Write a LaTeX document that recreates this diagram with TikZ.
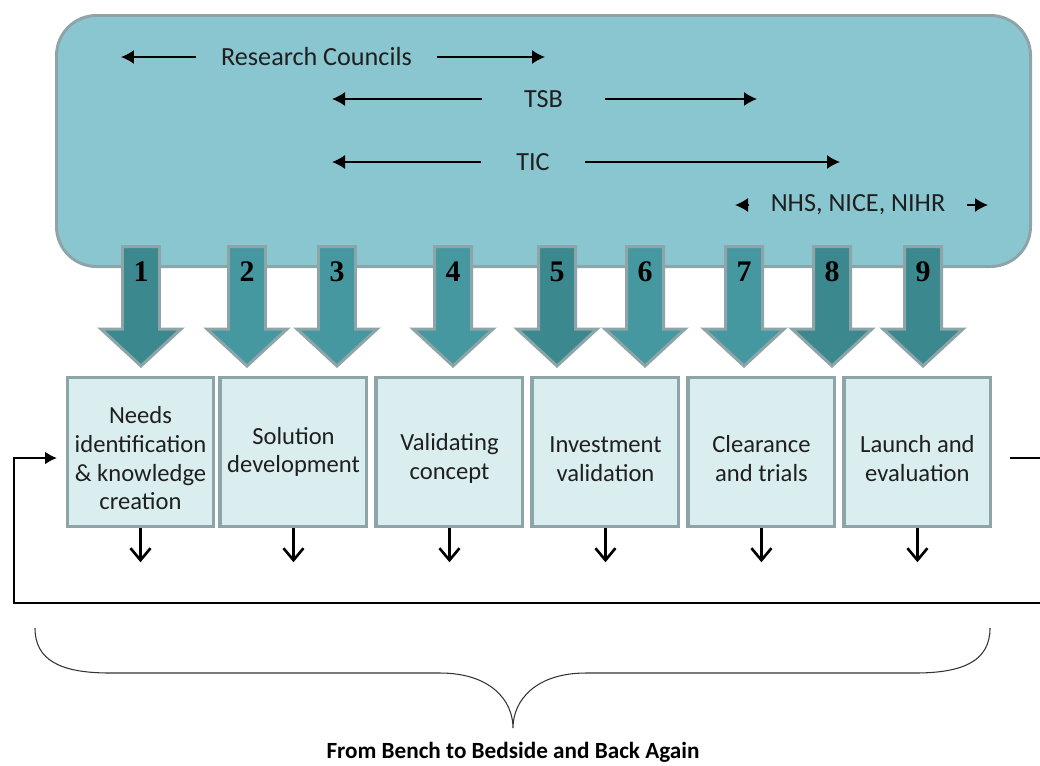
\documentclass[tikz,border=0pt]{standalone}
\usepackage{fontspec}
\setmainfont{Carlito}
\newfontfamily\numfont{Liberation Serif}
\usetikzlibrary{arrows.meta,positioning}

\definecolor{panelfill}{HTML}{8AC6CF}
\definecolor{framegrey}{HTML}{8DA5A8}
\definecolor{arrowdark}{HTML}{3C888F}
\definecolor{arrowlight}{HTML}{4698A0}
\definecolor{stagefill}{HTML}{DAEDEF}

\newcommand{\lift}{\rule{0pt}{17pt}}

\begin{document}
\begin{tikzpicture}[
  x=0.02cm, y=-0.02cm,
  every node/.style={font=\fontsize{14}{16.3}\selectfont, text=black!88},
  stage/.style={draw=framegrey, fill=stagefill, line width=2pt,
    minimum width=2.93cm, minimum height=2.98cm, align=center, inner sep=1pt},
  toplabel/.style={inner ysep=0pt, font=\fontsize{14.9}{17}\selectfont},
  span/.style={-{Latex[length=2.6mm,width=2.8mm]}, line width=0.9pt},
  outarrow/.style={-{Straight Barb[length=2.4mm,width=4mm]}, line width=1.5pt},
  loopline/.style={line width=1.6pt},
  numlabel/.style={font=\numfont\bfseries\fontsize{17}{17}\selectfont, text=black},
  blockarrow/.style={draw=framegrey, line width=1.7pt, line join=miter},
  brace/.style={draw=black!80, line width=0.6pt},
]
\useasboundingbox (0,0) rectangle (1040,765);
\clip (0,0) rectangle (1040,765);

% funding panel
\draw[draw=framegrey, fill=panelfill, line width=1.7pt, rounded corners=0.8cm]
  (56.5,15.5) rectangle (1030.5,266.5);

\node[toplabel, inner xsep=0.5cm] (rc) at (316.5,57) {Research Councils};
\coordinate (rcL) at (121,57);
\coordinate (rcR) at (545,57);
\draw[span] (rc.west) -- (rcL);
\draw[span] (rc.east) -- (rcR);

\node[toplabel, inner xsep=0.84cm] (tsb) at (543.5,99) {TSB};
\coordinate (tsbL) at (332,99);
\coordinate (tsbR) at (757,99);
\draw[span] (tsb.west) -- (tsbL);
\draw[span] (tsb.east) -- (tsbR);

\node[toplabel, inner xsep=0.7cm] (tic) at (533,162) {TIC};
\coordinate (ticL) at (332,162);
\coordinate (ticR) at (840,162);
\draw[span] (tic.west) -- (ticL);
\draw[span] (tic.east) -- (ticR);

\node[toplabel, inner xsep=0.42cm] (nhs) at (858,205) {NHS, NICE, NIHR};
\coordinate (nhsL) at (735,205);
\coordinate (nhsR) at (988,205);
\draw[span] (nhs.west) -- (nhsL);
\draw[span] (nhs.east) -- (nhsR);

% numbered block arrows
\foreach \i/\x/\c in {1/141/arrowdark, 2/247/arrowlight, 3/337/arrowlight,
    4/453/arrowlight, 5/557/arrowdark, 6/645/arrowlight, 7/744/arrowlight,
    8/832/arrowdark, 9/923/arrowdark} {
  \draw[blockarrow, fill=\c] (\x-18.5,246.5) -- (\x+18.5,246.5) -- (\x+18.5,329)
    -- (\x+40,329) -- (\x,366) -- (\x-40,329) -- (\x-18.5,329) -- cycle;
  \node[numlabel] (n\i) at (\x,272) {\i};
}

% stages
\node[stage] (b1) at (140.5,452) {\lift Needs\\identification\\\& knowledge\\creation};
\node[stage, right=0.06cm of b1] (b2) {Solution\\development};
\node[stage, right=0.12cm of b2] (b3) {\lift Validating\\concept};
\node[stage, right=0.12cm of b3] (b4) {\lift Investment\\validation};
\node[stage, right=0.12cm of b4] (b5) {\lift Clearance\\and trials};
\node[stage, right=0.12cm of b5] (b6) {\lift Launch and\\evaluation};

\foreach \i in {1,...,6}
  \draw[outarrow] (b\i.south) -- ++(0,34);

% feedback loop
\coordinate (loopout) at (1010,458);
\coordinate (loopin) at (57,458);
\draw[loopline, -{Latex[length=2.4mm,width=2.6mm]}] (loopout) -- (1080,458)
  -- (1080,603) -- (14,603) -- (14,458) -- (loopin);

% brace and caption
\draw[brace] (35,628) .. controls (35,660) and (60,673) .. (110,673) -- (440,673)
  .. controls (490,673) and (513,700) .. (513,728)
  .. controls (513,700) and (536,673) .. (586,673) -- (915,673)
  .. controls (965,673) and (990,660) .. (990,628);
\node[font=\bfseries\fontsize{13.2}{15}\selectfont, text=black] (caption) at (513,752)
  {From Bench to Bedside and Back Again};
\end{tikzpicture}
\end{document}
